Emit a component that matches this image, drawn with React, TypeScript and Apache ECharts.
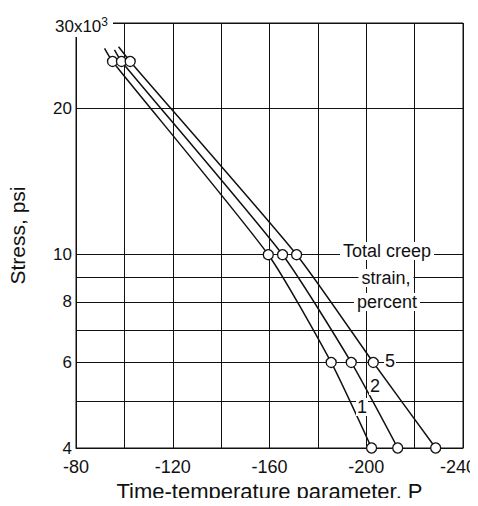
import React, { useEffect, useRef } from 'react';
import * as echarts from 'echarts';

const FONT = "'Liberation Sans', Arial, sans-serif";

// Axis ticks / grid
const xGridValues = [-240, -220, -200, -180, -160, -140, -120, -100, -80];
const xLabelValues = [-240, -200, -160, -120, -80];
const yGridValues = [4000, 5000, 6000, 7000, 8000, 9000, 10000, 20000, 30000];
const yLabelValues = [4000, 6000, 8000, 10000, 20000];

// Total creep strain curves (first point = end of drawn line, no marker)
const strain1P = [-91.8, -95.1, -159.5, -185.5, -202.2];
const strain1S = [26600, 25000, 10000, 6000, 4000];
const strain2P = [-95.9, -98.8, -165.4, -193.8, -213.0];
const strain2S = [26400, 25000, 10000, 6000, 4000];
const strain5P = [-97.6, -102.4, -171.2, -202.9, -228.7];
const strain5S = [26800, 25000, 10000, 6000, 4000];

const INK = '#111';

function makeData(p: number[], s: number[]) {
  return p.map((x, i) =>
    i === 0 ? { value: [x, s[i]], symbol: 'none' } : { value: [x, s[i]] }
  );
}

export default function App() {
  const ref = useRef<HTMLDivElement>(null);
  useEffect(() => {
    if (!ref.current) return;
    const chart = echarts.init(ref.current, null, { renderer: 'svg' });
    const mkSeries = (name: string, p: number[], s: number[]) => ({
      name,
      type: 'line',
      data: makeData(p, s),
      smooth: 0.2,
      symbol: 'circle',
      symbolSize: 10,
      lineStyle: { color: INK, width: 1.5 },
      itemStyle: { color: '#fff', borderColor: INK, borderWidth: 1.3 },
      z: 3,
    });
    const labelStyle = {
      fontFamily: FONT,
      fill: INK,
      backgroundColor: '#fff',
      align: 'center',
      verticalAlign: 'middle',
    };
    chart.setOption({
      animation: false,
      backgroundColor: '#fff',
      grid: {
        left: 76,
        right: 15,
        top: 23,
        bottom: 58,
        show: true,
        borderColor: INK,
        borderWidth: 1,
        outerBoundsMode: 'none',
        containLabel: false,
      },
      xAxis: {
        type: 'value',
        inverse: true,
        min: -240,
        max: -80,
        interval: 20,
        name: 'Time-temperature parameter, P',
        nameLocation: 'middle',
        nameGap: 28,
        nameTextStyle: { fontFamily: FONT, fontSize: 22, color: INK },
        axisLine: { show: true, lineStyle: { color: INK } },
        axisTick: { show: false, customValues: xGridValues },
        axisLabel: {
          customValues: xLabelValues,
          formatter: (v: number) => (v === -240 ? '{end|' + v + '}' : String(v)),
          fontFamily: FONT,
          fontSize: 18,
          color: INK,
          margin: 10,
          rich: { end: { fontFamily: FONT, fontSize: 18, color: INK, padding: [0, 10, 0, 0] } },
        },
        splitLine: { show: true, lineStyle: { color: INK, width: 1 } },
      },
      yAxis: {
        type: 'log',
        logBase: 10,
        min: 4000,
        max: 30000,
        name: 'Stress, psi',
        nameLocation: 'middle',
        nameGap: 48,
        nameTextStyle: { fontFamily: FONT, fontSize: 21, color: INK },
        axisLine: { show: true, lineStyle: { color: INK } },
        axisTick: { show: false, customValues: yGridValues },
        axisLabel: {
          customValues: yLabelValues,
          formatter: (v: number) => String(Math.round(v / 1000)),
          fontFamily: FONT,
          fontSize: 17,
          color: INK,
          margin: 4,
        },
        splitLine: { show: true, lineStyle: { color: INK, width: 1 } },
      },
      series: [
        mkSeries('1', strain1P, strain1S),
        mkSeries('2', strain2P, strain2S),
        mkSeries('5', strain5P, strain5S),
      ],
      graphic: [
        { type: 'rect', shape: { x: 72, y: 12, width: 41, height: 25 }, style: { fill: '#fff' }, z: 10 },
        {
          type: 'text',
          x: 55,
          y: 26,
          z: 11,
          style: {
            text: '30x10{sup|3}',
            fontFamily: FONT,
            fontSize: 17,
            fill: INK,
            verticalAlign: 'middle',
            align: 'left',
            rich: { sup: { fontFamily: FONT, fontSize: 12, verticalAlign: 'top', padding: [0, 0, 9, 0], fill: INK } },
          },
        },
        { type: 'text', x: 387, y: 251, z: 11, style: { ...labelStyle, text: 'Total creep', fontSize: 18, padding: [0, 3] } },
        { type: 'text', x: 386, y: 278, z: 11, style: { ...labelStyle, text: 'strain,', fontSize: 18, padding: [0, 3] } },
        { type: 'text', x: 387, y: 302, z: 11, style: { ...labelStyle, text: 'percent', fontSize: 18, padding: [0, 3] } },
        { type: 'text', x: 390, y: 361, z: 11, style: { ...labelStyle, text: '5', fontSize: 18, padding: [0, 1] } },
        { type: 'text', x: 375, y: 386, z: 11, style: { ...labelStyle, text: '2', fontSize: 18, padding: [0, 1] } },
        { type: 'text', x: 362, y: 407, z: 11, style: { ...labelStyle, text: '1', fontSize: 18, padding: [0, 1] } },
      ],
    });
    return () => chart.dispose();
  }, []);
  return <div ref={ref} style={{ width: 478, height: 506, margin: -8 }} />;
}
